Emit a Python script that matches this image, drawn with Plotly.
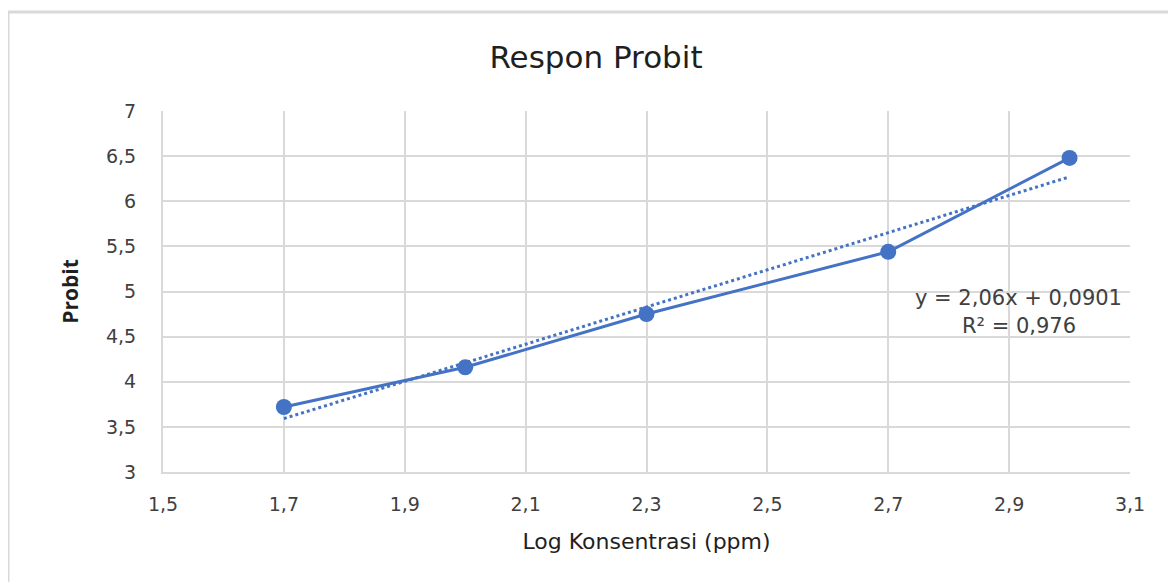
import plotly.graph_objects as go

# Data
log_konsentrasi = [1.7, 2.0, 2.3, 2.7, 3.0]
probit = [3.72, 4.16, 4.75, 5.44, 6.48]

trend_slope = 2.06
trend_intercept = 0.0901
trend_x = [1.7, 3.0]
trend_eq = "y = 2,06x + 0,0901"
trend_r2 = "R² = 0,976"

x_tickvals = [1.5, 1.7, 1.9, 2.1, 2.3, 2.5, 2.7, 2.9, 3.1]
x_ticktext = ["1,5", "1,7", "1,9", "2,1", "2,3", "2,5", "2,7", "2,9", "3,1"]
y_tickvals = [3, 3.5, 4, 4.5, 5, 5.5, 6, 6.5, 7]
y_ticktext = ["3", "3,5", "4", "4,5", "5", "5,5", "6", "6,5", "7"]

trend_y = [trend_slope * x + trend_intercept for x in trend_x]

BLUE = "#4472C4"
GRID = "#d9d9d9"
TXT = "#404040"
DARK = "#1f1f1f"
FONT = "DejaVu Sans"

fig = go.Figure()
fig.add_trace(go.Scatter(
    x=trend_x, y=trend_y, mode="lines",
    line=dict(color=BLUE, width=3, dash="dot"),
    showlegend=False, hoverinfo="skip",
))
fig.add_trace(go.Scatter(
    x=log_konsentrasi, y=probit, mode="lines+markers",
    line=dict(color=BLUE, width=3),
    marker=dict(color=BLUE, size=16),
    showlegend=False,
))

fig.add_annotation(x=2.916, y=4.928, xref="x", yref="y", text=trend_eq,
                   showarrow=False, font=dict(family=FONT, size=21, color=TXT))
fig.add_annotation(x=2.916, y=4.618, xref="x", yref="y", text=trend_r2,
                   showarrow=False, font=dict(family=FONT, size=21, color=TXT))

fig.update_layout(
    width=1176, height=582,
    margin=dict(l=155, r=54, t=103, b=118),
    paper_bgcolor="white", plot_bgcolor="white",
    title=dict(text="Respon Probit", x=0.5, xanchor="center", xref="container",
               y=1 - 49 / 582, yanchor="middle", yref="container",
               font=dict(family=FONT, size=31, color=DARK)),
    xaxis=dict(
        range=[1.5, 3.1], tickvals=x_tickvals, ticktext=x_ticktext,
        showgrid=True, gridcolor=GRID, gridwidth=2,
        showline=True, linecolor=GRID, linewidth=2,
        zeroline=False, ticks="", ticklen=0, ticklabelstandoff=14,
        tickfont=dict(family=FONT, size=19, color=TXT),
        title=dict(text="Log Konsentrasi (ppm)", standoff=20,
                   font=dict(family=FONT, size=22, color=DARK)),
    ),
    yaxis=dict(
        range=[3, 7], tickvals=y_tickvals, ticktext=y_ticktext,
        showgrid=True, gridcolor=GRID, gridwidth=2,
        showline=True, linecolor=GRID, linewidth=2,
        zeroline=False, ticks="", ticklen=0, ticklabelstandoff=21,
        tickfont=dict(family=FONT, size=19, color=TXT),
        title=dict(text="<b>Probit</b>", standoff=22,
                   font=dict(family="Liberation Sans Narrow, Open Sans", size=21, color=DARK)),
    ),
    shapes=[dict(type="rect", xref="paper", yref="paper",
                 x0=-155 / 967, x1=1.2, y0=-0.5, y1=1 + 99 / 361,
                 line=dict(color=GRID, width=3), layer="below")],
)

fig.write_html("out.html")
